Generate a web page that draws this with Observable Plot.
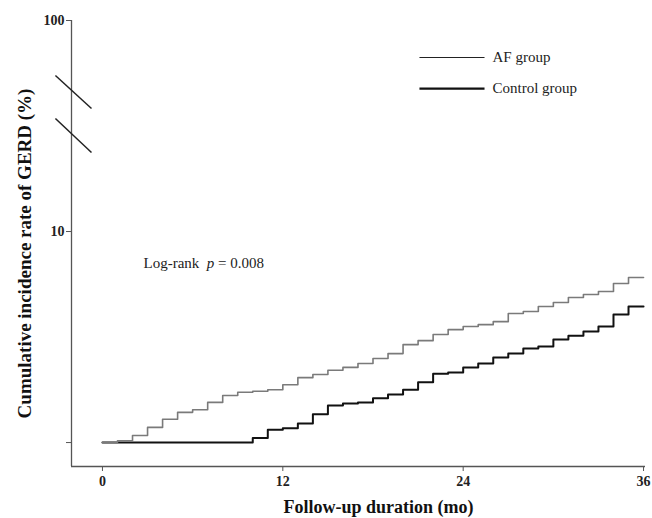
<!DOCTYPE html>
<html>
<head>
<meta charset="utf-8">
<script src="https://cdn.jsdelivr.net/npm/d3@7"></script>
<script src="https://cdn.jsdelivr.net/npm/@observablehq/plot@0.6"></script>
<style>
  html, body { margin: 0; padding: 0; background: #fff; }
</style>
</head>
<body>
<div id="chart"></div>
<script>
// Follow-up month
const months = d3.range(0, 37);
// Cumulative incidence (%) for AF group
const afValues = [1.0, 1.02, 1.08, 1.18, 1.29, 1.39, 1.43, 1.55, 1.67, 1.73, 1.75, 1.78,
  1.88, 2.03, 2.10, 2.20, 2.27, 2.37, 2.50, 2.64, 2.91, 3.04, 3.25, 3.43,
  3.55, 3.62, 3.74, 4.09, 4.18, 4.41, 4.61, 4.87, 5.03, 5.20, 5.67, 6.06, 6.06];
// Cumulative incidence (%) for Control group
const ctrlValues = [1.0, 1.0, 1.0, 1.0, 1.0, 1.0, 1.0, 1.0, 1.0, 1.0, 1.05, 1.15,
  1.17, 1.23, 1.36, 1.50, 1.53, 1.55, 1.62, 1.69, 1.78, 1.93, 2.12, 2.15,
  2.27, 2.37, 2.53, 2.64, 2.79, 2.85, 3.08, 3.21, 3.36, 3.55, 4.04, 4.41, 4.41];
const xTicks = [0, 12, 24, 36];
const yTicks = [1, 10, 100];
const seriesNames = ["AF group", "Control group"];
const pLabel = "Log-rank p = 0.008";

const xDomain = [-2.06, 36.13];
const yDomain = [0.77, 100];

const af = months.map((m, i) => ({m, v: afValues[i]}));
const ctrl = months.map((m, i) => ({m, v: ctrlValues[i]}));

// axis-break marks (data space)
const breaks = [
  {x1: -3.13, y1: 54.9, x2: -0.73, y2: 38.3},
  {x1: -3.13, y1: 34.3, x2: -0.73, y2: 23.7}
];
// legend entries (data space)
const legend = [
  {name: seriesNames[0], x1: 21.09, x2: 25.42, y: 66.8, sw: 1.2, c: "#222"},
  {name: seriesNames[1], x1: 21.09, x2: 25.42, y: 47.6, sw: 2.2, c: "#111"}
];

const chart = Plot.plot({
  width: 652,
  height: 518,
  marginLeft: 71,
  marginRight: 7,
  marginTop: 20,
  marginBottom: 52,
  style: {fontFamily: "'Liberation Serif', 'Times New Roman', serif", fontSize: "14px", fontWeight: "bold", color: "#222", background: "#fff"},
  x: {domain: xDomain, ticks: xTicks},
  y: {type: "log", domain: yDomain, ticks: yTicks},
  marks: [
    Plot.axisX({ticks: xTicks, tickSize: 5, tickPadding: 5, label: null, stroke: "#555", fontSize: 14}),
    Plot.axisY({ticks: yTicks, tickSize: 5, tickPadding: 2, label: null, stroke: "#555", fontSize: 14,
      tickFormat: d => d === 1 ? "" : String(d)}),
    Plot.ruleX([xDomain[0]], {y1: yDomain[0], y2: yDomain[1], stroke: "#555", strokeWidth: 1.3}),
    Plot.ruleY([yDomain[0]], {x1: xDomain[0], x2: xDomain[1], stroke: "#555", strokeWidth: 1.3}),
    Plot.link(breaks, {x1: "x1", y1: "y1", x2: "x2", y2: "y2", stroke: "#222", strokeWidth: 1.5}),
    Plot.line(ctrl, {x: "m", y: "v", curve: "step-after", stroke: "#111", strokeWidth: 2}),
    Plot.line(af, {x: "m", y: "v", curve: "step-after", stroke: "#7a7a7a", strokeWidth: 1.6}),
    Plot.link(legend, {x1: "x1", x2: "x2", y1: "y", y2: "y", stroke: "c", strokeWidth: "sw"}),
    Plot.text(legend, {x: d => d.x2 + 0.53, y: "y", text: "name", textAnchor: "start", fontSize: 15, fontWeight: "normal", fill: "#222"}),
    Plot.text([pLabel], {x: 2.73, y: 7.05, text: d => d, textAnchor: "start", fontSize: 15, fontWeight: "normal", fill: "#222"}),
    Plot.text(["Cumulative incidence rate of GERD (%)"], {frameAnchor: "left", textAnchor: "middle", rotate: -90, dx: -47, dy: 10, fontSize: 19, fontWeight: "bold", fill: "#111"}),
    Plot.text(["Follow-up duration (mo)"], {frameAnchor: "bottom", textAnchor: "middle", dx: 20, dy: 46, fontSize: 18, fontWeight: "bold", fill: "#111"})
  ]
});

// italic p in the log-rank label
d3.select(chart).selectAll("text").each(function() {
  const t = d3.select(this);
  if (t.text() === pLabel) {
    t.text(null);
    t.append("tspan").text("Log-rank\u00a0 ");
    t.append("tspan").attr("font-style", "italic").text("p");
    t.append("tspan").text(" = 0.008");
  }
});

document.getElementById("chart").appendChild(chart);
</script>
</body>
</html>
